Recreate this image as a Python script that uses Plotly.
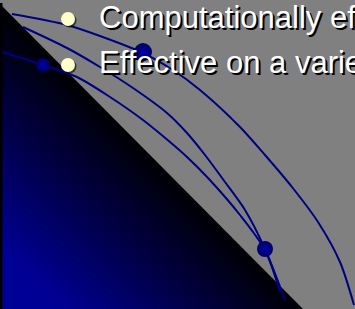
import numpy as np
import plotly.graph_objects as go

# ---- data (pixel coordinates, y downward) ----
curve_a_x = [12, 67, 100, 143, 173, 200, 240, 265, 292, 318, 340, 354]
curve_a_y = [14, 25, 36, 53, 70, 90, 127, 155, 187, 222, 262, 305]
curve_b_x = [23, 67, 100, 133, 167, 187, 205, 225, 245, 265, 285]
curve_b_y = [27, 48, 67, 88, 113, 133, 155, 182, 210, 249, 300]
curve_c_x = [2, 43, 77, 110, 143, 170, 187, 208, 240, 265, 280]
curve_c_y = [52, 65, 77, 97, 120, 142, 157, 178, 215, 250, 292]

dot_x = [43, 143, 265]
dot_y = [65, 52, 249]
dot_size = [14, 18, 16]

bullet_x = [68, 68]
bullet_y = [19, 65]
bullet_text = ["Computationally efficient", "Effective on a variety of problems"]
text_x = [97, 97]
text_y = [17, 62]

W, H = 355, 309
NAVY = "#000080"
GRAY = "#808080"

fig = go.Figure()

# background gradient (black along diagonal -> blue toward bottom-left)
gx = np.arange(0, W + 5, 4)
gy = np.arange(0, H + 5, 4)
GX, GY = np.meshgrid(gx, gy)
gz = np.clip(GY - GX, 0, 250)
fig.add_trace(go.Heatmap(x=gx, y=gy, z=gz, zmin=0, zmax=250, zsmooth="best",
                         colorscale=[[0, "#000000"], [1, "#000096"]],
                         showscale=False, hoverinfo="skip"))

# gray upper-right region
fig.add_trace(go.Scatter(x=[0, W + 2, W + 2, 305, 0, 0], y=[-2, -2, H + 2, H + 2, 4, -2],
                         fill="toself", fillcolor=GRAY, mode="lines",
                         line=dict(width=0, color=GRAY), hoverinfo="skip", showlegend=False))

# curves
for cx, cy in [(curve_a_x, curve_a_y), (curve_b_x, curve_b_y), (curve_c_x, curve_c_y)]:
    fig.add_trace(go.Scatter(x=cx, y=cy, mode="lines",
                             line=dict(color=NAVY, width=2, shape="spline", smoothing=0.8),
                             hoverinfo="skip", showlegend=False))

# spheres
fig.add_trace(go.Scatter(x=dot_x, y=dot_y, mode="markers", opacity=1,
                         marker=dict(size=dot_size, color="#00005e", opacity=1,
                                     gradient=dict(type="radial", color="#0000b4"),
                                     line=dict(width=0)),
                         hoverinfo="skip", showlegend=False))

# bullets (with a soft shadow)
fig.add_trace(go.Scatter(x=[v + 1.5 for v in bullet_x], y=[v + 1.5 for v in bullet_y], mode="markers",
                         marker=dict(size=14, color="rgba(0,0,0,0.6)", line=dict(width=0)),
                         hoverinfo="skip", showlegend=False))
fig.add_trace(go.Scatter(x=bullet_x, y=bullet_y, mode="markers",
                         marker=dict(size=14, color="#FFFFCC", line=dict(width=0)),
                         hoverinfo="skip", showlegend=False))

for tx, ty, t in zip(text_x, text_y, bullet_text):
    fig.add_annotation(x=tx, y=ty, text=t, showarrow=False, xanchor="left", yanchor="middle",
                       font=dict(family="Liberation Sans, Arial", size=31, color="white",
                                 shadow="2px 2px 0px #000000"))

# left black edge
fig.add_shape(type="rect", x0=0, x1=2.5, y0=3, y1=H, fillcolor="black", line=dict(width=0), layer="above")

fig.update_layout(width=W, height=H, margin=dict(l=0, r=0, t=0, b=0),
                  paper_bgcolor=GRAY, plot_bgcolor=GRAY, showlegend=False,
                  xaxis=dict(range=[0, W], visible=False, fixedrange=True),
                  yaxis=dict(range=[H, 0], visible=False, fixedrange=True))

fig.write_html("out.html", config={"displayModeBar": False},
               post_script="document.body.style.margin='0px';document.body.style.overflow='hidden';")
